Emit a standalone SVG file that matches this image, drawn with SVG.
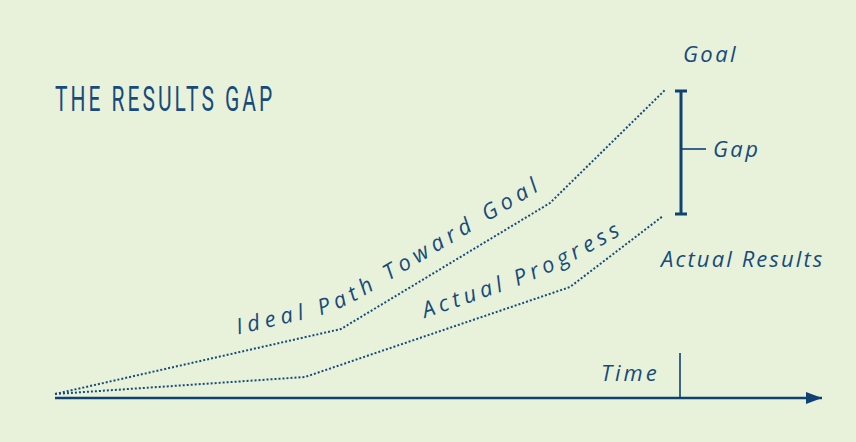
<svg xmlns="http://www.w3.org/2000/svg" width="856" height="442" viewBox="0 0 856 442">
  <defs>
    <style>
      .lbl { font-family: "Open Sans", "Noto Sans", "DejaVu Sans", sans-serif; font-style: italic; font-size: 22px; fill: #174b7c; letter-spacing: 2.4px; }
      .title { font-family: Roboto, "Liberation Sans", sans-serif; font-weight: 400; font-size: 35px; fill: #174b7c; letter-spacing: 5px; }
      .dots { fill: none; stroke: #174b7c; stroke-width: 2; stroke-dasharray: 2 2; }
      .axis { fill: none; stroke: #0f4272; stroke-width: 2.4; }
      .thin { fill: none; stroke: #0f4272; stroke-width: 1.6; }
      .bar { fill: none; stroke: #0f4272; stroke-width: 3; }
    </style>
    <marker id="arrow" viewBox="0 0 16 12" refX="16" refY="6" markerWidth="16" markerHeight="12" markerUnits="userSpaceOnUse" orient="auto">
      <path d="M0,0 L16,6 L0,12 Z" fill="#0f4272"/>
    </marker>
    <!-- baselines for the slanted labels, running just above each curve -->
    <path id="idealText" d="M238,334.5 L312,317.5 Q338,311 362,297 L552,183"/>
    <path id="actualText" d="M425,318 L508,289.5 Q556,273 636,226"/>
  </defs>

  <rect x="0" y="0" width="856" height="442" fill="#e8f2da"/>

  <g id="title">
    <text class="title" transform="translate(55,111) scale(0.6,1.02)" x="0" y="0">THE RESULTS GAP</text>
  </g>

  <g id="connectors">
    <!-- ideal path toward the goal -->
    <path class="dots" d="M55,394 L341,329 L550,203 L666,89"/>
    <!-- actual progress -->
    <path class="dots" d="M55,394 L305,377 L570,287 L663,216"/>
    <!-- time axis -->
    <line class="axis" x1="55" y1="398" x2="822" y2="398" marker-end="url(#arrow)"/>
    <line class="thin" x1="680" y1="353" x2="680" y2="398" stroke-width="2"/>
    <!-- gap bracket -->
    <line class="bar" x1="681" y1="90" x2="681" y2="215"/>
    <line class="bar" x1="675" y1="91" x2="687" y2="91"/>
    <line class="bar" x1="675" y1="214" x2="687" y2="214"/>
    <line class="thin" x1="681" y1="149" x2="706" y2="149"/>
  </g>

  <g id="goal">
    <text class="lbl" x="683" y="62">Goal</text>
  </g>
  <g id="gap">
    <text class="lbl" x="713" y="157">Gap</text>
  </g>
  <g id="actual-results">
    <text class="lbl" x="661" y="267" style="letter-spacing:2.1px">Actual Results</text>
  </g>
  <g id="time">
    <text class="lbl" x="601" y="381" style="letter-spacing:3px">Time</text>
  </g>
  <g id="ideal-path">
    <text class="lbl" style="letter-spacing:5.2px"><textPath href="#idealText">Ideal Path Toward Goal</textPath></text>
  </g>
  <g id="actual-progress">
    <text class="lbl" style="letter-spacing:4.6px"><textPath href="#actualText">Actual Progress</textPath></text>
  </g>
</svg>
